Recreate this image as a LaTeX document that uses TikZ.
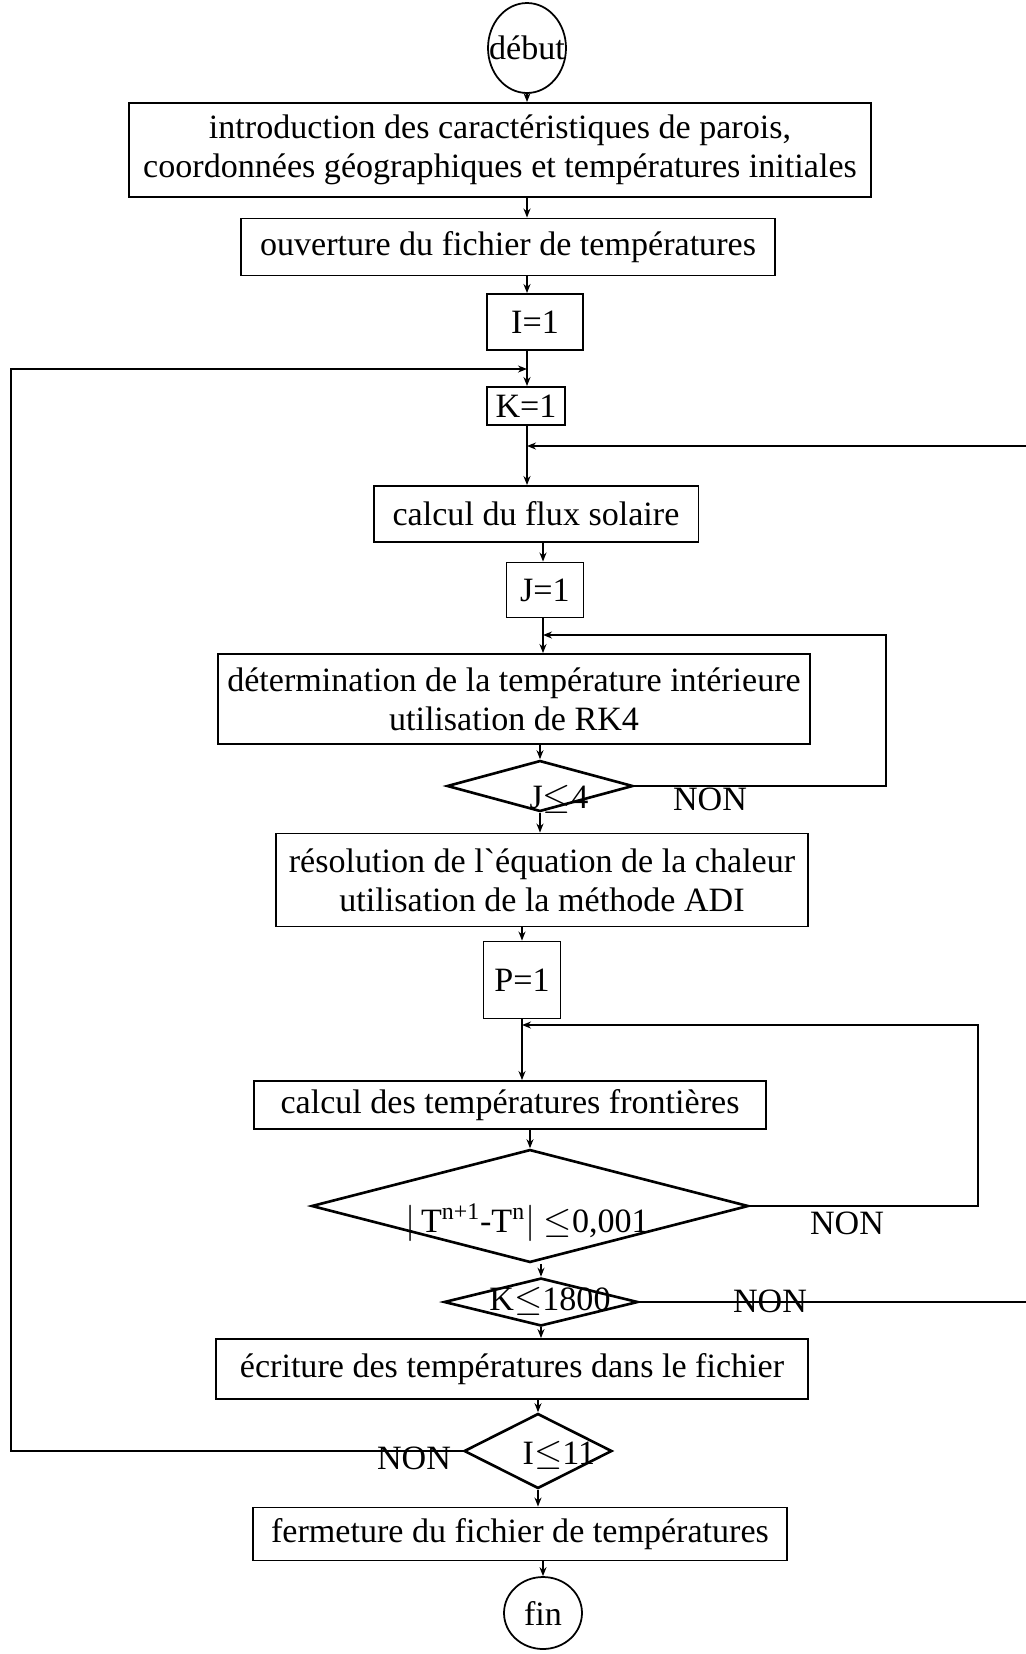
\documentclass[tikz,border=0pt]{standalone}
\usepackage{fontspec}
\setmainfont{Liberation Serif}
\usetikzlibrary{positioning,shapes.geometric,arrows.meta,calc}

\begin{document}
\begin{tikzpicture}[
    x=0.02cm,y=-0.02cm,
    terminal/.style={ellipse,draw,line width=1pt,inner sep=0pt,font=\fontsize{19.4pt}{22pt}\selectfont},
    process/.style={rectangle,draw,line width=1.1pt,inner sep=0pt,align=center,font=\fontsize{19.4pt}{22pt}\selectfont},
    decision/.style={diamond,draw,line width=1.5pt,inner sep=0pt},
    flowtext/.style={inner sep=0pt,font=\fontsize{19.4pt}{22pt}\selectfont},
    arrow/.style={-{Stealth[length=1.8mm,width=1.4mm]},line width=0.8pt},
    loopline/.style={-{Stealth[length=1.8mm,width=1.4mm]},line width=1pt}
]

\useasboundingbox (0,0) rectangle (1026,1654);

% Start and initialisation
\node[terminal,minimum width=1.56cm,minimum height=1.8cm] (debut) at (527,48) {\makebox[0pt]{début}};
\node[process,minimum width=14.84cm,minimum height=1.88cm] (intro) at (500,150) {introduction des caractéristiques de parois,\\coordonnées géographiques et températures initiales};
\node[process,minimum width=10.7cm,minimum height=1.14cm] (ouverture) at (508,247) {ouverture du fichier de températures};
\node[process,minimum width=1.92cm,minimum height=1.12cm] (i1) at (535,322) {I=1};
\node[process,minimum width=1.56cm,minimum height=0.76cm] (k1) at (526,406) {K=1};

% Solar flux and inner temperature
\node[process,minimum width=6.5cm,minimum height=1.12cm] (flux) at (536,514) {calcul du flux solaire};
\node[process,minimum width=1.54cm,minimum height=1.1cm] (j1) at (545,590) {J=1};
\node[process,minimum width=11.84cm,minimum height=1.8cm] (rk4) at (514,699) {détermination de la température intérieure\\utilisation de RK4};
\node[decision,minimum width=3.72cm,minimum height=1.02cm] (j4) at (540,786) {};
\node[flowtext] (j4-text) at (559,799) {J$\leq$4};
\node[flowtext] (j4-non) at (710,799) {NON};

% Heat equation (ADI)
\node[process,minimum width=10.64cm,minimum height=1.86cm] (adi) at (542,880) {résolution de l\textasciigrave équation de la chaleur\\utilisation de la méthode ADI};
\node[process,minimum width=1.54cm,minimum height=1.54cm] (p1) at (522,980) {P=1};
\node[process,minimum width=10.26cm,minimum height=0.96cm] (front) at (510,1105) {calcul des températures frontières};
\node[decision,minimum width=8.74cm,minimum height=2.26cm] (conv) at (530,1206) {};
\node[flowtext] (conv-text) at (527,1223) {$\bigl|$\,T\textsuperscript{n+1}-T\textsuperscript{n}$\bigr|$ $\leq$0,001};
\node[flowtext] (conv-non) at (847,1223) {NON};

% Time loop and output
\node[decision,minimum width=3.88cm,minimum height=0.96cm] (k1800) at (541,1302) {};
\node[flowtext] (k1800-text) at (550,1301) {K$\leq$1800};
\node[flowtext] (k1800-non) at (770,1301) {NON};
\node[process,minimum width=11.84cm,minimum height=1.2cm] (ecriture) at (512,1369) {écriture des températures dans le fichier};
\node[decision,minimum width=2.96cm,minimum height=1.5cm] (i11) at (538,1451) {};
\node[flowtext] (i11-text) at (559,1455) {I$\leq$11};
\node[flowtext] (i11-non) at (414,1458) {NON};
\node[process,minimum width=10.68cm,minimum height=1.06cm] (fermeture) at (520,1534) {fermeture du fichier de températures};
\node[terminal,minimum width=1.56cm,minimum height=1.44cm] (fin) at (543,1613) {fin};

% Columns, loop rails and join points
\coordinate (col-a) at (527,0);
\coordinate (col-b) at (543,0);
\coordinate (join-i) at (527,369);
\coordinate (join-k) at (527,446);
\coordinate (join-j) at (543,635);
\coordinate (join-p) at (522,1025);
\coordinate (rail-i) at (11,369);
\coordinate (rail-k) at (1032,446);
\coordinate (rail-j) at (886,635);
\coordinate (rail-p) at (978,1025);

% Main flow
\draw[arrow] (debut.south) -- (debut.south |- intro.north);
\draw[arrow] (intro.south -| col-a) -- (ouverture.north -| col-a);
\draw[arrow] (ouverture.south -| col-a) -- (i1.north -| col-a);
\draw[arrow] (i1.south -| col-a) -- (k1.north -| col-a);
\draw[arrow] (k1.south -| col-a) -- (flux.north -| col-a);
\draw[arrow] (flux.south -| col-b) -- (j1.north -| col-b);
\draw[arrow] (j1.south -| col-b) -- (rk4.north -| col-b);
\draw[arrow] (rk4.south -| j4) -- (j4.north);
\draw[arrow] (j4.south) -- (j4.south |- adi.north);
\draw[arrow] (adi.south -| p1) -- (p1.north);
\draw[arrow] (p1.south) -- (p1.south |- front.north);
\draw[arrow] (front.south -| conv) -- (conv.north);
\draw[arrow] (conv.south -| k1800) -- (k1800.north);
\draw[arrow] (k1800.south) -- (k1800.south |- ecriture.north);
\draw[arrow] (ecriture.south -| i11) -- (i11.north);
\draw[arrow] (i11.south) -- (i11.south |- fermeture.north);
\draw[arrow] (fermeture.south -| fin) -- (fin.north);

% NON loops
\draw[loopline] (j4.east) -| (rail-j) -- (join-j);
\draw[loopline] (conv.east) -| (rail-p) -- (join-p);
\draw[loopline] (k1800.east) -| (rail-k) -- (join-k);
\draw[loopline] (i11.west) -| (rail-i) -- (join-i);

\end{tikzpicture}
\end{document}
